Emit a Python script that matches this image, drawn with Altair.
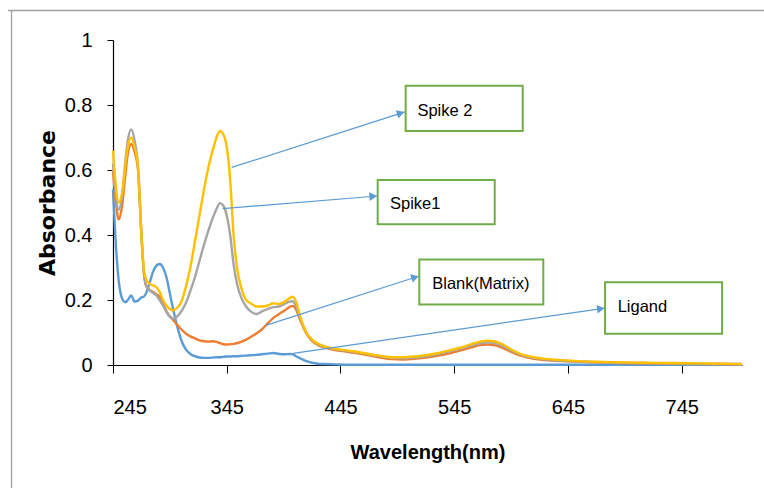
import math
import altair as alt
import pandas as pd

# ---------------- data ----------------
wavelength = [245, 247, 250, 253, 256, 258, 261, 264, 267, 270, 272, 274, 277, 280, 283, 286, 289,
              292, 295, 298, 301, 305, 309, 313, 317, 321, 325, 329, 333, 336, 339, 342, 345, 348,
              351, 354, 358, 362, 366, 371, 376, 381, 386, 391, 396, 400, 403, 406, 410, 415, 420,
              425, 430, 440, 450, 460, 470, 480, 490, 500, 510, 520, 530, 540, 550, 560, 568, 574,
              580, 588, 596, 605, 615, 625, 640, 655, 670, 690, 710, 735, 760, 780, 798]

spike2 = [0.66, 0.57, 0.50, 0.53, 0.62, 0.67, 0.70, 0.67, 0.61, 0.40, 0.30, 0.265, 0.25, 0.245, 0.24,
          0.225, 0.20, 0.183, 0.172, 0.168, 0.175, 0.193, 0.24, 0.30, 0.38, 0.46, 0.54, 0.61, 0.665,
          0.70, 0.72, 0.71, 0.67, 0.57, 0.40, 0.30, 0.235, 0.20, 0.19, 0.18, 0.18, 0.183, 0.19, 0.188,
          0.195, 0.205, 0.21, 0.195, 0.145, 0.10, 0.078, 0.066, 0.058, 0.05, 0.045, 0.04, 0.034,
          0.028, 0.024, 0.024, 0.026, 0.03, 0.036, 0.044, 0.053, 0.064, 0.072, 0.075, 0.073, 0.063,
          0.046, 0.032, 0.024, 0.019, 0.015, 0.012, 0.010, 0.008, 0.007, 0.006, 0.005, 0.004, 0.003]

spike1 = [0.62, 0.54, 0.478, 0.52, 0.63, 0.69, 0.725, 0.69, 0.61, 0.40, 0.29, 0.245, 0.23, 0.222,
          0.215, 0.20, 0.183, 0.163, 0.148, 0.143, 0.148, 0.165, 0.19, 0.228, 0.27, 0.32, 0.37,
          0.415, 0.455, 0.48, 0.498, 0.49, 0.46, 0.40, 0.31, 0.25, 0.205, 0.18, 0.165, 0.157, 0.165,
          0.173, 0.178, 0.18, 0.188, 0.195, 0.196, 0.18, 0.14, 0.10, 0.077, 0.065, 0.057, 0.049,
          0.044, 0.039, 0.033, 0.026, 0.022, 0.021, 0.023, 0.027, 0.033, 0.041, 0.05, 0.06, 0.067,
          0.07, 0.068, 0.058, 0.043, 0.03, 0.022, 0.017, 0.013, 0.011, 0.009, 0.007, 0.006, 0.005,
          0.004, 0.003, 0.003]

blank = [0.60, 0.52, 0.448, 0.49, 0.59, 0.65, 0.68, 0.655, 0.60, 0.40, 0.29, 0.245, 0.232, 0.225,
         0.218, 0.21, 0.19, 0.165, 0.15, 0.138, 0.125, 0.11, 0.097, 0.088, 0.082, 0.076, 0.073,
         0.072, 0.073, 0.071, 0.067, 0.064, 0.063, 0.064, 0.065, 0.067, 0.072, 0.078, 0.086, 0.097,
         0.11, 0.128, 0.145, 0.157, 0.168, 0.178, 0.182, 0.17, 0.135, 0.097, 0.074, 0.062, 0.055,
         0.046, 0.041, 0.036, 0.03, 0.023, 0.018, 0.017, 0.019, 0.023, 0.028, 0.035, 0.044, 0.054,
         0.061, 0.063, 0.061, 0.052, 0.039, 0.027, 0.019, 0.015, 0.012, 0.01, 0.008, 0.006, 0.005,
         0.004, 0.003, 0.003, 0.002]

ligand = [0.54, 0.40, 0.26, 0.205, 0.193, 0.20, 0.214, 0.195, 0.198, 0.208, 0.21, 0.22, 0.25, 0.285,
          0.305, 0.311, 0.30, 0.27, 0.22, 0.17, 0.125, 0.077, 0.048, 0.034, 0.027, 0.023, 0.022,
          0.022, 0.023, 0.024, 0.024, 0.025, 0.026, 0.026, 0.027, 0.027, 0.028, 0.029, 0.030, 0.031,
          0.033, 0.035, 0.037, 0.034, 0.033, 0.034, 0.033, 0.027, 0.02, 0.012, 0.007, 0.004, 0.003,
          0.002, 0.001, 0.001, 0.001, 0.001, 0.001, 0.001, 0.001, 0.001, 0.001, 0.001, 0.001, 0.001,
          0.001, 0.001, 0.001, 0.001, 0.001, 0.001, 0.001, 0.001, 0.001, 0.001, 0.001, 0.001, 0.001,
          0.001, 0.001, 0.001, 0.001]

series_names = ["Ligand", "Blank(Matrix)", "Spike1", "Spike 2"]
series_values = [ligand, blank, spike1, spike2]
series_colors = ["#5B9BD5", "#ED7D31", "#A5A5A5", "#FFC000"]

x_ticks = [245, 345, 445, 545, 645, 745]
y_ticks = [0, 0.2, 0.4, 0.6, 0.8, 1]

# annotation callouts (data coordinates)
callout_labels = ["Spike 2", "Spike1", "Blank(Matrix)", "Ligand"]
box_x1 = [502.3, 477.7, 514.3, 677.6]
box_x2 = [605.2, 580.6, 623.3, 780.5]
box_y1 = [0.859, 0.569, 0.325, 0.255]
box_y2 = [0.720, 0.433, 0.186, 0.096]
text_x = [512.6, 488.5, 525.7, 688.7]
text_y = [0.781, 0.494, 0.250, 0.178]
arrow_x1 = [349.4, 341.4, 379.3, 403.5]
arrow_y1 = [0.608, 0.481, 0.122, 0.036]
arrow_x2 = [501.7, 477.7, 514.3, 677.8]
arrow_y2 = [0.779, 0.520, 0.274, 0.175]

# ---------------- layout ----------------
X_MIN, X_MAX = 245, 798
W, H = 629, 325
PAD = {"left": 113, "top": 40, "right": 22, "bottom": 123}
SANS = "Liberation Sans, Arial, sans-serif"

for v in series_values:
    assert len(v) == len(wavelength)

xscale = alt.Scale(domain=[X_MIN, X_MAX], nice=False, zero=False)
yscale = alt.Scale(domain=[0, 1], nice=False)

# arrowheads oriented in pixel space
kx, ky = W / (X_MAX - X_MIN), H / 1.0
head_x, head_y, head_angle = [], [], []
for x1, y1, x2, y2 in zip(arrow_x1, arrow_y1, arrow_x2, arrow_y2):
    dx, dy = (x2 - x1) * kx, -(y2 - y1) * ky
    L = math.hypot(dx, dy)
    ux, uy = dx / L, dy / L
    head_x.append(x2 - 4.5 * ux / kx)
    head_y.append(y2 + 4.5 * uy / ky)
    head_angle.append(math.degrees(math.atan2(dy, dx)) % 360)

ann = pd.DataFrame({
    "label": callout_labels, "bx1": box_x1, "bx2": box_x2, "by1": box_y1, "by2": box_y2,
    "tx": text_x, "ty": text_y, "ax1": arrow_x1, "ay1": arrow_y1, "ax2": arrow_x2, "ay2": arrow_y2,
    "hx": head_x, "hy": head_y, "hang": head_angle,
})

x_axis = alt.Axis(values=x_ticks, format="d", title="Wavelength(nm)", grid=False,
                  domainColor="#000000", tickColor="#000000", tickSize=8, domainWidth=1.2,
                  labelFont=SANS, labelFontSize=20, labelColor="#000000", labelPadding=24,
                  titleFont=SANS, titleFontSize=20, titleFontWeight="bold", titleColor="#000000",
                  titleY=93, titleBaseline="alphabetic")
y_axis = alt.Axis(values=y_ticks, format="~g", title="Absorbance", grid=False,
                  domainColor="#000000", tickColor="#000000", tickSize=6, domainWidth=1.2,
                  labelFont=SANS, labelFontSize=20, labelColor="#000000", labelPadding=15,
                  titleFont="DejaVu Sans", titleFontSize=22, titleFontWeight="bold",
                  titleColor="#000000", titleX=-59, titleY=H / 2, titleAngle=270,
                  titleAlign="center", titleBaseline="alphabetic")


def X(field):
    return alt.X(field, type="quantitative", scale=xscale, axis=x_axis)


def Y(field):
    return alt.Y(field, type="quantitative", scale=yscale, axis=y_axis)


layers = []

# outer frame (top + left edges)
frame = alt.Data(values=[{"k": 1}])
layers.append(alt.Chart(frame).mark_rule(color="#A0A0A0", strokeWidth=1.3).encode(
    x=alt.value(-PAD["left"] + 11.5), y=alt.value(-PAD["top"] + 10.5),
    y2=alt.value(H + PAD["bottom"])))
layers.append(alt.Chart(frame).mark_rule(color="#A0A0A0", strokeWidth=1.3).encode(
    x=alt.value(-PAD["left"] + 8), x2=alt.value(W + PAD["right"]),
    y=alt.value(-PAD["top"] + 10.5)))

for name, vals, col in zip(series_names, series_values, series_colors):
    df = pd.DataFrame({"wavelength": wavelength, "absorbance": vals, "series": name})
    layers.append(alt.Chart(df).mark_line(color=col, strokeWidth=2.4, interpolate="monotone").encode(
        x=X("wavelength"), y=Y("absorbance")))

base = alt.Chart(ann)
layers.append(base.mark_rule(color="#5B9BD5", strokeWidth=1.2).encode(
    x=X("ax1"), y=Y("ay1"), x2="ax2:Q", y2="ay2:Q"))
layers.append(base.mark_point(shape="triangle-right", filled=True, color="#5B9BD5", opacity=1,
                              size=75, strokeWidth=0).encode(
    x=X("hx"), y=Y("hy"), angle=alt.Angle("hang:Q", scale=None)))
layers.append(base.mark_rect(fill="#FFFFFF", stroke="#70AD47", strokeWidth=2).encode(
    x=X("bx1"), x2="bx2:Q", y=Y("by1"), y2="by2:Q"))
layers.append(base.mark_text(align="left", baseline="middle", font=SANS, fontSize=16.5,
                             color="#000000").encode(
    x=X("tx"), y=Y("ty"), text="label:N"))

chart = alt.layer(*layers).properties(
    width=W, height=H,
    padding=PAD,
    autosize=alt.AutoSizeParams(type="none"),
    background="#FFFFFF",
).configure_view(stroke=None)

chart.save("out.html", embed_options={"renderer": "svg", "actions": False})
